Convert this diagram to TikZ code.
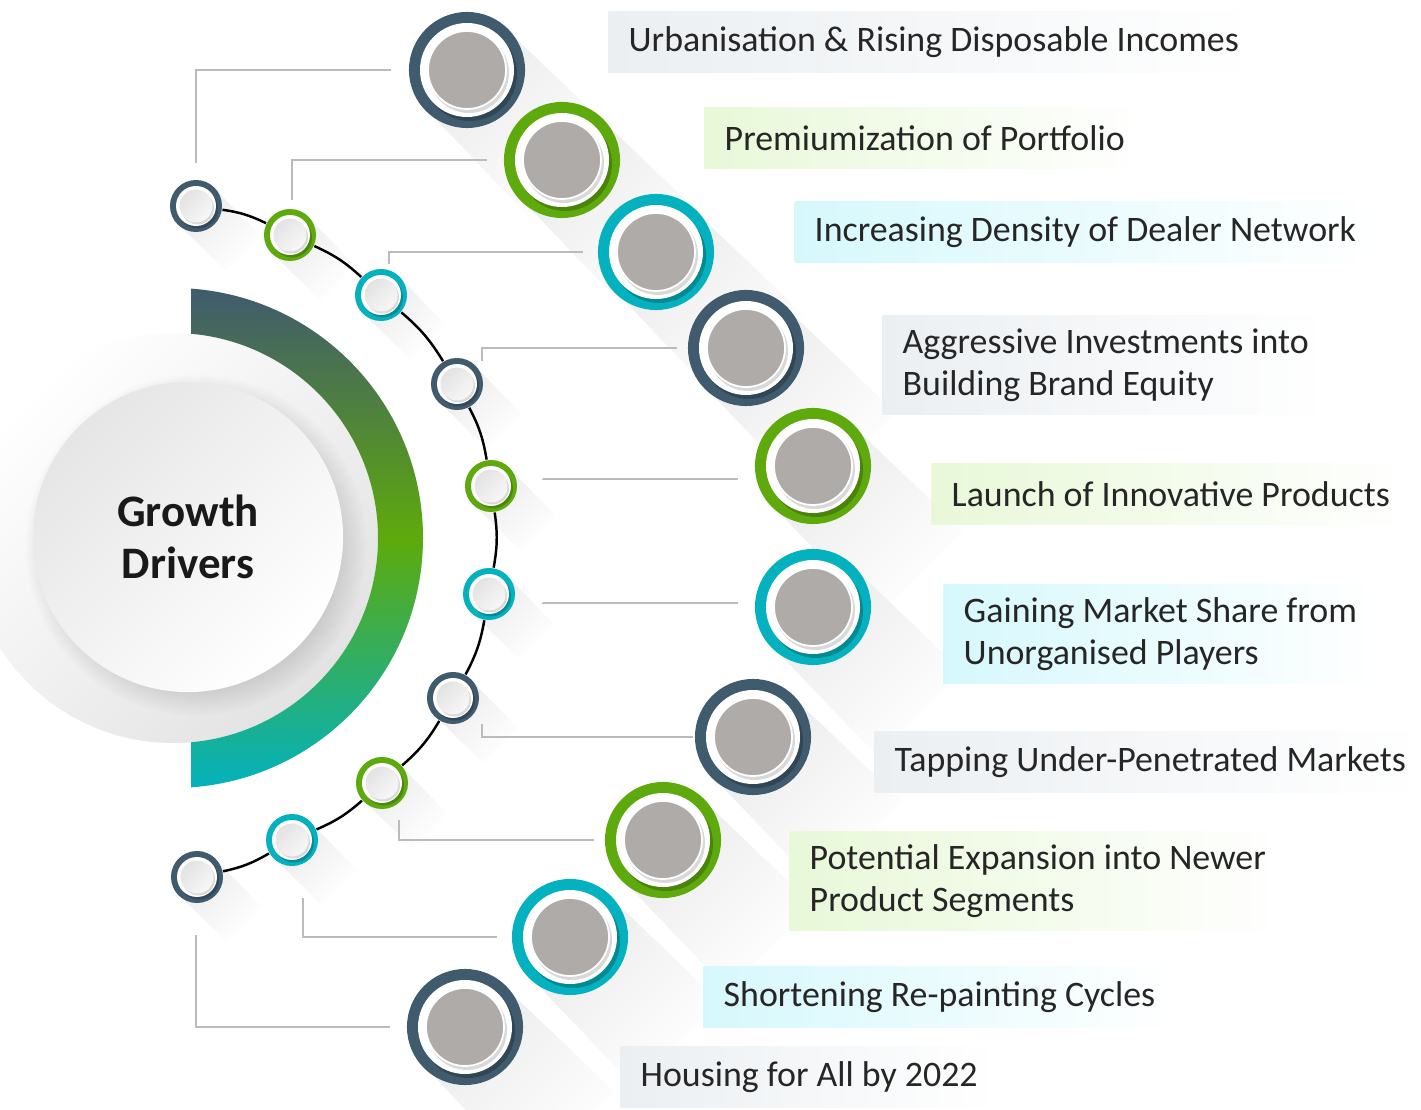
\documentclass[tikz,border=0pt]{standalone}
\usepackage{fontspec}
\setmainfont{Carlito}
\usetikzlibrary{calc, positioning, shadows, fadings}

\definecolor{slate}{HTML}{405A6E}
\definecolor{leaf}{HTML}{5EAA0C}
\definecolor{aqua}{HTML}{03B2BE}
\definecolor{discgray}{HTML}{AEABA9}
\definecolor{slatetint}{HTML}{EBEFF2}
\definecolor{leaftint}{HTML}{E8F8D8}
\definecolor{aquatint}{HTML}{D6F8FC}
\definecolor{leadgray}{HTML}{BBBBBB}

\begin{document}
\begin{tikzpicture}[x=0.01cm, y=-0.01cm,
    bigring/.style={circle, fill=#1, minimum size=1.16cm, inner sep=0pt},
    smallring/.style={circle, fill=#1, minimum size=0.52cm, inner sep=0pt},
    longshadow/.style={top color=black!8, bottom color=white, shading angle=45},
    chain/.style={black, line width=0.7pt},
    leader/.style={leadgray, line width=0.5pt},
    drvbox/.style={anchor=west, left color=#1, right color=white, inner xsep=0.2cm,
      inner ysep=3.6pt, minimum height=0.6cm, align=left, text=black!85,
      font=\fontsize{10.2}{12}\selectfont}]
  \useasboundingbox (0,0) rectangle (1421,1110);

  % hub disc and gradient arc
  \begin{scope}
    \clip (0,0) rectangle (1421,1110);
    \shade[top color=white, bottom color=black!11, shading angle=45] (173,538) circle (205);
  \end{scope}
  \begin{scope}
    \clip (191,280) rectangle (460,800);
    \shade[even odd rule, top color=slate, bottom color=aqua, middle color=leaf]
      (173,538) circle (250) (173,538) circle (205);
  \end{scope}
  \node[circle, minimum size=3.1cm, top color=black!10, bottom color=white, shading angle=45,
    circular drop shadow={shadow xshift=2pt, shadow yshift=-2pt, opacity=0.25},
    align=center, font=\fontsize{12.8}{14.8}\selectfont\bfseries, text=black!90]
    (hub) at (188,537) {Growth\\Drivers};

  % long shadows
  \foreach \x/\y in {467/70, 562/160, 656/252, 746/348, 813/466, 813/607, 753/737, 663/840, 570/937, 465/1027}
    \shade[longshadow] (\x+40,\y-40) -- (\x+150,\y+65) -- (\x+65,\y+150) -- (\x-40,\y+40) -- cycle;
  \foreach \x/\y in {196/206, 290/235, 381/295, 457/384, 491/486, 489/594, 453/698, 382/783, 292/840, 197/877}
    \shade[longshadow] (\x+18,\y-18) -- (\x+65,\y+30) -- (\x+30,\y+65) -- (\x-18,\y+18) -- cycle;

  % outer drivers
  \foreach \i/\x/\y/\c in {1/467/70/slate, 2/562/160/leaf, 3/656/252/aqua, 4/746/348/slate, 5/813/466/leaf,
      6/813/607/aqua, 7/753/737/slate, 8/663/840/leaf, 9/570/937/aqua, 10/465/1027/slate} {
    \node[bigring=\c] (b\i) at (\x,\y) {};
    \fill[black, opacity=0.22] ($(b\i)+(3,4)$) circle (47);
    \fill[white] (b\i) circle (47);
    \fill[black, opacity=0.15] ($(b\i)+(2,3)$) circle (40);
    \fill[discgray, draw=white, line width=0.5pt] (b\i) circle (39);
  }

  % inner drivers
  \foreach \i/\x/\y/\c in {1/196/206/slate, 2/290/235/leaf, 3/381/295/aqua, 4/457/384/slate, 5/491/486/leaf,
      6/489/594/aqua, 7/453/698/slate, 8/382/783/leaf, 9/292/840/aqua, 10/197/877/slate} {
    \node[smallring=\c] (s\i) at (\x,\y) {};
    \fill[black, opacity=0.2] ($(s\i)+(2,2.5)$) circle (20);
    \fill[white] (s\i) circle (20);
    \fill[black, opacity=0.15] ($(s\i)+(1.5,2)$) circle (16.5);
    \shade[top color=black!11, bottom color=black!3, shading angle=45] (s\i) circle (16.5);
  }

  % chain through inner drivers
  \foreach \i [evaluate=\i as \j using int(\i+1)] in {1,...,9}
    \draw[chain] (s\i) to[bend left=9] (s\j);

  % leaders
  \foreach \i/\x/\y/\dy/\gap in {1/196/163/0/5, 2/292/200/0/4.5, 3/389/264/0/4, 4/482/361/0/3, 5/543/479/-3.7/4.5,
      6/543/603/1.1/4.5, 7/482/724/0/0.3, 8/399/820/0/3, 9/303/898/0/4, 10/196/935/0/4.5} {
    \coordinate (k\i) at (\x,\y);
    \draw[leader, shorten >=\gap pt] (k\i) |- ([yshift=\dy pt]b\i.west);
  }

  % driver labels
  \foreach \i/\x/\y/\c/\txt in {
      1/608/42/slatetint/{Urbanisation \& Rising Disposable Incomes},
      2/704/138/leaftint/{Premiumization of Portfolio},
      3/794/232/aquatint/{Increasing Density of Dealer Network},
      4/882/365/slatetint/{Aggressive Investments into\\Building Brand Equity},
      5/931/494/leaftint/{Launch of Innovative Products},
      6/943/634/aquatint/{Gaining Market Share from\\Unorganised Players},
      7/874/762/slatetint/{Tapping Under-Penetrated Markets},
      8/789/881/leaftint/{Potential Expansion into Newer\\Product Segments},
      9/703/997/aquatint/{Shortening Re-painting Cycles},
      10/620/1077/slatetint/{Housing for All by 2022}}
    \node[drvbox=\c] (t\i) at (\x,\y) {\txt};
\end{tikzpicture}
\end{document}
